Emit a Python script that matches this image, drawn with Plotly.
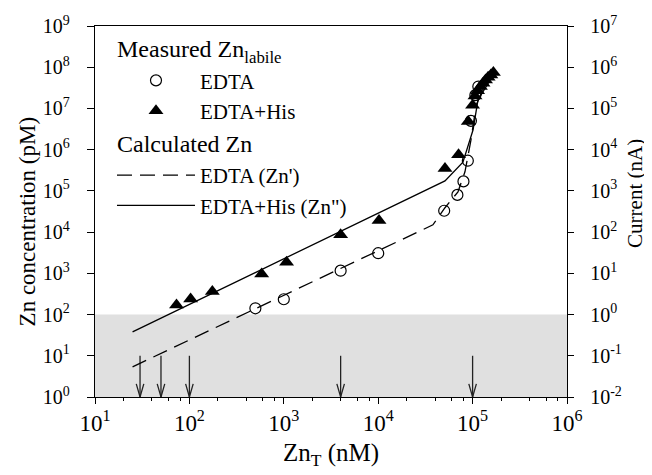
import numpy as np
import plotly.graph_objects as go

# ---- data ----
edta_x = [500, 1000, 4000, 10000, 50000, 69000, 80000, 89000, 96000, 107000, 115000]
edta_y = [142, 235, 1160, 3075, 3.3e4, 8.0e4, 1.7e5, 5.4e5, 5.0e6, 2.1e7, 3.4e7]

his_x = [73, 103, 175, 583, 1070, 4000, 10200, 51000, 71000, 90000, 100000,
         106000, 113000, 121000, 129000, 137000, 146000, 156000, 166000]
his_y = [171, 239, 360, 967, 1860, 8600, 1.9e4, 3.5e5, 7.5e5, 4.8e6, 1.2e7,
         2.0e7, 2.7e7, 3.4e7, 4.1e7, 4.9e7, 5.7e7, 6.5e7, 7.4e7]

calc_edta_x = [25, 38000, 51000, 70000, 83000, 96000, 109000, 150000]
calc_edta_y = [5.4, 1.5e4, 3.9e4, 9.5e4, 2.9e5, 1.7e6, 1.2e7, 6.6e7]

calc_his_x = [25, 51000, 79000, 101000, 114000, 173000]
calc_his_y = [38, 1.75e5, 5.0e5, 3.0e6, 1.6e7, 7.7e7]

arrow_x = [30, 50, 100, 4000, 100000]
arrow_top = 10
arrow_bottom = 1

band_low, band_high = 1, 100   # pM, shaded region

x_exp = [1, 2, 3, 4, 5, 6]
y_exp = [0, 1, 2, 3, 4, 5, 6, 7, 8, 9]
y2_exp = [-2, -1, 0, 1, 2, 3, 4, 5, 6, 7]

FONT = "Liberation Serif"


def F(size):
    return dict(family=FONT, size=size, color="black")


def pow_labels(exps):
    return ["10<sup>%d</sup>" % e if e >= 0 else "10<sup>-%d</sup>" % (-e) for e in exps]


fig = go.Figure()

# shaded band
fig.add_shape(type="rect", xref="paper", yref="y", x0=0, x1=1,
              y0=band_low, y1=band_high,
              fillcolor="#e0e0e0", line_width=0, layer="below")

# arrows
for ax_ in arrow_x:
    lx = np.log10(ax_)
    fig.add_trace(go.Scatter(x=[ax_, ax_], y=[arrow_top, arrow_bottom], mode="lines",
                             line=dict(color="#222", width=1.3), showlegend=False, hoverinfo="skip"))
    fig.add_trace(go.Scatter(x=[10 ** (lx - 0.04), ax_, 10 ** (lx + 0.04)],
                             y=[10 ** 0.32, arrow_bottom, 10 ** 0.32], mode="lines",
                             line=dict(color="#222", width=1.3), showlegend=False, hoverinfo="skip"))

fig.add_trace(go.Scatter(x=edta_x, y=edta_y, mode="markers", name="EDTA",
                         legendgroup="m",
                         legendgrouptitle=dict(text="Measured Zn<sub>labile</sub>", font=F(24)),
                         marker=dict(symbol="circle-open", size=11, color="black", line=dict(width=1.2))))
fig.add_trace(go.Scatter(x=his_x, y=his_y, mode="markers", name="EDTA+His",
                         legendgroup="m",
                         marker=dict(symbol="triangle-up", size=13, color="black")))
fig.add_trace(go.Scatter(x=calc_edta_x, y=calc_edta_y, mode="lines", name="EDTA (Zn')",
                         legendgroup="c",
                         legendgrouptitle=dict(text="Calculated Zn", font=F(24)),
                         line=dict(color="black", width=1.3, dash="15px,8px")))
fig.add_trace(go.Scatter(x=calc_his_x, y=calc_his_y, mode="lines", name="EDTA+His (Zn\")",
                         legendgroup="c",
                         line=dict(color="black", width=1.3)))
# helper traces so the right axis and the minor-tick axis are drawn
fig.add_trace(go.Scatter(x=[None], y=[None], yaxis="y2", showlegend=False, hoverinfo="skip"))
fig.add_trace(go.Scatter(x=[None], y=[None], xaxis="x2", showlegend=False, hoverinfo="skip"))

minor_x = [m * 10 ** d for d in range(1, 6) for m in (2, 4, 6, 8)]

axis_common = dict(showgrid=False, zeroline=False, showline=True, linecolor="black",
                   linewidth=1.3, tickcolor="black", ticks="outside", automargin=False)

# y-axis titles as annotations (precise placement)
fig.add_annotation(text="Zn concentration (pM)", xref="paper", yref="paper",
                   x=-0.143, y=0.472, textangle=-90, showarrow=False, font=F(23),
                   xanchor="center", yanchor="middle")
fig.add_annotation(text="Current (nA)", xref="paper", yref="paper",
                   x=1.144, y=0.55, textangle=-90, showarrow=False, font=F(21),
                   xanchor="center", yanchor="middle")

# margins compensate the 8px page offset of the html body
fig.update_layout(
    width=652, height=475,
    margin=dict(l=87, r=93, t=18, b=86),
    paper_bgcolor="white", plot_bgcolor="white",
    font=F(22),
    showlegend=True,
    legend=dict(x=0.036, y=1.0, xanchor="left", yanchor="top",
                bgcolor="rgba(0,0,0,0)", font=F(21), itemwidth=78,
                tracegroupgap=0),
    xaxis=dict(type="log", range=[1, 6], tickmode="array",
               tickvals=[10 ** e for e in x_exp], ticktext=pow_labels(x_exp),
               mirror=True, ticklen=6, ticklabelstandoff=-1,
               title=dict(text="Zn<sub>T</sub> (nM)", standoff=8, font=F(25)),
               tickfont=F(23), **axis_common),
    xaxis2=dict(type="log", range=[1, 6], overlaying="x", side="bottom",
                tickmode="array", tickvals=minor_x, showticklabels=False,
                showgrid=False, zeroline=False, showline=False, ticks="outside",
                ticklen=3, tickcolor="black", automargin=False),
    yaxis=dict(type="log", range=[0, 9], tickmode="array",
               tickvals=[10 ** e for e in y_exp], ticktext=pow_labels(y_exp),
               ticklen=7, ticklabelstandoff=13,
               tickfont=F(20), **axis_common),
    yaxis2=dict(type="log", range=[-2, 7], tickmode="array",
                tickvals=[10 ** e for e in y2_exp], ticktext=pow_labels(y2_exp),
                overlaying="y", side="right",
                ticklen=6, ticklabelstandoff=12,
                tickfont=F(20), **axis_common),
)

fig.write_html("out.html")
